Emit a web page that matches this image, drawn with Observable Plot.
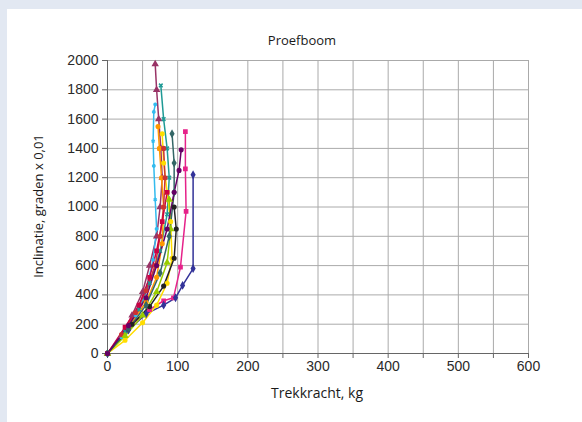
<!DOCTYPE html>
<html>
<head>
<meta charset="utf-8">
<script src="https://cdn.jsdelivr.net/npm/d3@7"></script>
<script src="https://cdn.jsdelivr.net/npm/@observablehq/plot@0.6"></script>
<style>
  html, body { margin: 0; padding: 0; }
  body { width: 582px; height: 422px; background: #e2e8f2; position: relative; overflow: hidden; font-family: "Open Sans", Lato, sans-serif; }
  #panel { position: absolute; left: 7px; top: 9px; width: 575px; height: 413px; background: #ffffff; }
  #chart { position: absolute; left: 0; top: 0; }
  .lbl { position: absolute; color: #1a1a1a; font-size: 13px; white-space: nowrap; }
  #title { left: 302px; top: 31px; transform: translateX(-50%); }
  #xlab { left: 317px; top: 383px; transform: translateX(-50%); font-size: 14px; }
  #ylab { left: 38px; top: 206px; transform: translate(-50%, -50%) rotate(-90deg); }
</style>
</head>
<body>
<div id="panel"></div>
<div id="chart"></div>
<div class="lbl" id="title">Proefboom</div>
<div class="lbl" id="xlab">Trekkracht, kg</div>
<div class="lbl" id="ylab">Inclinatie, graden x 0,01</div>
<script>
// Tick values
const xTicks = [0, 50, 100, 150, 200, 250, 300, 350, 400, 450, 500, 550, 600];
const yTicks = [0, 200, 400, 600, 800, 1000, 1200, 1400, 1600, 1800, 2000];

// Series: [Trekkracht kg, Inclinatie]
const s1 = [[0,0],[20,120],[35,260],[50,420],[60,600],[70,800],[75,1000],[78,1200],[76,1400],[73,1600],[70,1800],[68,1975]];
const s2 = [[0,0],[25,150],[45,300],[60,480],[75,700],[85,950],[88,1200],[85,1400],[80,1600],[76,1830]];
const s3 = [[0,0],[20,110],[40,260],[55,430],[65,640],[70,850],[68,1050],[66,1280],[65,1450],[66,1650],[68,1700]];
const s4 = [[0,0],[30,180],[60,300],[80,360],[94,380],[104,590],[112,970],[111,1260],[111,1515]];
const s5 = [[0,0],[30,160],[55,270],[80,330],[97,380],[107,465],[122,580],[122,1220]];
const s6 = [[0,0],[25,90],[50,210],[70,330],[85,480],[92,650],[90,900],[85,1100],[80,1300],[78,1500]];
const s7 = [[0,0],[30,180],[55,350],[70,520],[78,750],[80,1000],[77,1200],[74,1400],[72,1550]];
const s8 = [[0,0],[20,130],[40,280],[55,430],[68,600],[75,800],[80,1000],[82,1200],[80,1400]];
const s9 = [[0,0],[25,180],[45,330],[60,520],[70,700],[78,900],[85,1100]];
const s10 = [[0,0],[25,120],[50,260],[70,420],[85,620],[90,850],[88,1050]];
const s11 = [[0,0],[35,200],[60,320],[80,460],[95,650],[98,850],[95,1000]];
const s12 = [[0,0],[30,170],[55,330],[75,550],[88,800],[95,1100],[95,1300],[92,1500]];
const s13 = [[0,0],[30,190],[55,380],[70,600],[85,850],[95,1100],[102,1250],[105,1390]];

const seriesNames = ["s1","s2","s3","s4","s5","s6","s7","s8","s9","s10","s11","s12","s13"];
const seriesData = [s1,s2,s3,s4,s5,s6,s7,s8,s9,s10,s11,s12,s13];
const seriesColors = ["#993366","#1f9a95","#33bbee","#e6228a","#333399","#ffdd00","#ff9900","#cc3333","#cc0044","#99cc00","#222222","#336666","#660066"];
const seriesSymbols = ["triangle","times","asterisk","square","diamond","circle","circle","circle","square","triangle","circle","diamond","circle"];

const rows = seriesData.flatMap((pts, i) => pts.map(([x, y]) => ({series: seriesNames[i], x, y})));

const chart = Plot.plot({
  width: 582,
  height: 422,
  marginLeft: 107,
  marginRight: 54,
  marginTop: 60,
  marginBottom: 69,
  style: {background: "transparent", fontFamily: "'Liberation Sans', Arial, sans-serif", fontSize: "14px", color: "#2a2a2a"},
  x: {domain: [0, 600]},
  y: {domain: [0, 2000]},
  color: {domain: seriesNames, range: seriesColors},
  symbol: {domain: seriesNames, range: seriesSymbols},
  marks: [
    Plot.gridX(xTicks, {stroke: "#aaaaaa", strokeOpacity: 1}),
    Plot.gridY(yTicks, {stroke: "#aaaaaa", strokeOpacity: 1}),
    Plot.axisX(xTicks, {tickFormat: d => d % 100 === 0 ? String(d) : "", tickSize: 5, tickPadding: 3, stroke: "#666", label: null, fontSize: 14}),
    Plot.axisY(yTicks, {tickFormat: d => String(d), tickSize: 5, tickPadding: 4, stroke: "#666", label: null, fontSize: 14}),
    Plot.ruleX([0], {stroke: "#666"}),
    Plot.ruleY([0], {stroke: "#666"}),
    Plot.line(rows, {x: "x", y: "y", z: "series", stroke: "series", strokeWidth: 1.5}),
    Plot.dot(rows, {x: "x", y: "y", symbol: "series", fill: "series", stroke: "series", r: 1.8})
  ]
});
document.getElementById("chart").appendChild(chart);
</script>
</body>
</html>
